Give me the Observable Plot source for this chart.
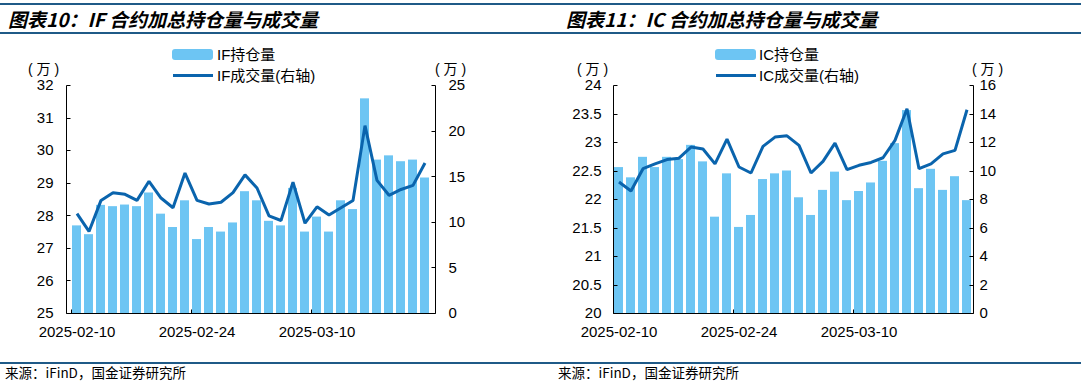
<!DOCTYPE html>
<html><head><meta charset="utf-8">
<script src="https://cdn.jsdelivr.net/npm/d3@7"></script>
<script src="https://cdn.jsdelivr.net/npm/@observablehq/plot@0.6"></script>
<style>
body{margin:0;background:#fff;width:1086px;height:385px;position:relative;overflow:hidden;font-family:"Liberation Sans",Arial,sans-serif;color:#000;}
.hline{position:absolute;left:0;width:1081px;height:2px;background:#1f5a87;}
.title{position:absolute;top:7px;font-family:"Noto Sans CJK SC",sans-serif;font-weight:bold;font-style:italic;font-size:19px;line-height:24px;white-space:nowrap;}
.foot{position:absolute;top:364px;font-family:"Noto Sans CJK SC",sans-serif;font-size:13.5px;line-height:17px;white-space:nowrap;}
.leg{position:absolute;font-size:15px;line-height:18px;font-family:"Liberation Sans","Noto Sans CJK SC",sans-serif;white-space:nowrap;}
.sw{position:absolute;width:41px;height:11px;background:#6dc5f3;border-radius:3px;}
.ln{position:absolute;width:40px;height:3px;background:#0a64ad;}
.unit{position:absolute;font-size:14px;line-height:16px;font-family:"Liberation Sans","Noto Sans CJK SC",sans-serif;white-space:nowrap;}
.chart{position:absolute;top:40px;}
</style>
</head><body>
<div class="hline" style="top:3px"></div>
<div class="hline" style="top:32px"></div>
<div class="hline" style="top:362px"></div>
<div class="title" style="left:8px">图表10：IF 合约加总持仓量与成交量</div>
<div class="title" style="left:566px">图表11：IC 合约加总持仓量与成交量</div>
<div class="foot" style="left:5px">来源：iFinD，国金证券研究所</div>
<div class="foot" style="left:558px">来源：iFinD，国金证券研究所</div>

<div class="sw" style="left:172px;top:49px"></div>
<div class="leg" style="left:217px;top:46px">IF持仓量</div>
<div class="ln" style="left:173px;top:74px"></div>
<div class="leg" style="left:217px;top:67px">IF成交量(右轴)</div>
<div class="unit" style="left:28px;top:61px">( 万 )</div>
<div class="unit" style="left:435px;top:61px">( 万 )</div>

<div class="sw" style="left:715px;top:49px"></div>
<div class="leg" style="left:759px;top:46px">IC持仓量</div>
<div class="ln" style="left:716px;top:74px"></div>
<div class="leg" style="left:759px;top:67px">IC成交量(右轴)</div>
<div class="unit" style="left:577px;top:61px">( 万 )</div>
<div class="unit" style="left:972px;top:61px">( 万 )</div>

<div id="c1" class="chart" style="left:0px"></div>
<div id="c2" class="chart" style="left:540px"></div>

<script>
const dates = ["2025-02-10","2025-02-11","2025-02-12","2025-02-13","2025-02-14",
  "2025-02-17","2025-02-18","2025-02-19","2025-02-20","2025-02-21",
  "2025-02-24","2025-02-25","2025-02-26","2025-02-27","2025-02-28",
  "2025-03-03","2025-03-04","2025-03-05","2025-03-06","2025-03-07",
  "2025-03-10","2025-03-11","2025-03-12","2025-03-13","2025-03-14",
  "2025-03-17","2025-03-18","2025-03-19","2025-03-20","2025-03-21"];
const xTickLabels = ["2025-02-10","2025-02-24","2025-03-10"];

const ifOI = [27.69,27.42,28.32,28.28,28.33,28.28,28.70,28.05,27.64,28.46,
  27.27,27.64,27.50,27.78,28.74,28.46,27.83,27.69,28.84,27.50,
  27.96,27.50,28.46,28.19,31.59,29.71,29.84,29.66,29.71,29.16];
const ifVol = [10.95,9.0,12.4,13.25,13.07,12.4,14.5,12.66,11.6,15.4,
  12.4,12.0,12.2,13.25,15.2,13.76,10.7,10.2,14.4,9.9,
  11.7,10.8,11.6,12.4,20.6,14.6,12.96,13.6,14.05,16.5];
const icOI = [22.56,22.38,22.74,22.56,22.74,22.70,22.95,22.66,21.69,22.45,
  21.51,21.72,22.35,22.45,22.50,22.03,21.72,22.16,22.48,21.98,
  22.14,22.29,22.67,22.98,23.56,22.19,22.53,22.16,22.40,21.98];
const icVol = [9.23,8.6,10.16,10.5,10.8,10.9,11.68,11.54,10.5,12.24,
  10.28,9.86,11.73,12.38,12.47,11.8,9.86,10.68,11.96,10.09,
  10.4,10.6,10.93,12.15,14.37,10.16,10.5,11.2,11.45,14.3];

const ifTicksL = [25,26,27,28,29,30,31,32];
const ifTicksR = [0,5,10,15,20,25];
const icTicksL = [20,20.5,21,21.5,22,22.5,23,23.5,24];
const icTicksR = [0,2,4,6,8,10,12,14,16];

const BAR = "#6dc5f3", LINE = "#0a64ad";
const PI = 0.22;

function makeChart({oi, vol, yL, yR, ticksL, ticksR, width, ml, mr, padL, padR}) {
  const [l0, l1] = yL, [r0, r1] = yR;
  const toL = v => l0 + (v - r0) * (l1 - l0) / (r1 - r0);
  const fromL = v => r0 + (v - l0) * (r1 - r0) / (l1 - l0);
  const rows = dates.map((d, i) => ({date: d, oi: oi[i], vol: vol[i]}));
  return Plot.plot({
    width, height: 300,
    marginTop: 45, marginBottom: 27, marginLeft: ml, marginRight: mr,
    style: {fontSize: "15px", fontFamily: "'Liberation Sans', Arial, sans-serif", color: "#000", background: "transparent", overflow: "visible"},
    x: {type: "band", domain: dates, paddingInner: PI, paddingOuter: PI / 2, axis: null},
    y: {domain: yL, axis: null},
    marks: [
      Plot.barY(rows, {x: "date", y1: l0, y2: "oi", fill: BAR}),
      Plot.line(rows, {x: "date", y: d => toL(d.vol), stroke: LINE, strokeWidth: 3, strokeLinejoin: "miter", strokeLinecap: "butt"}),
      Plot.axisX(xTickLabels, {tickSize: 0, tickPadding: 13, label: null}),
      Plot.axisY(ticksL, {anchor: "left", tickSize: 0, tickPadding: padL, label: null, tickFormat: d => String(d)}),
      Plot.axisY(ticksR.map(toL), {anchor: "right", tickSize: 0, tickPadding: padR, label: null, tickFormat: d => String(Math.round(fromL(d) * 100) / 100)}),
      (index, scales, values, dim) => {
        const x = scales.x, y = scales.y;
        const xl = Math.round(dim.marginLeft) + 0.5;
        const xr = Math.round(dim.width - dim.marginRight) + 0.5;
        const yb = Math.round(dim.height - dim.marginBottom) + 0.5;
        const yt = Math.round(dim.marginTop) + 0.5;
        const step = x(dates[1]) - x(dates[0]);
        let d = `M${xl},${yt}V${yb}H${xr}M${xr},${yt}V${yb}`;
        for (const t of ticksL) { const yy = Math.round(y(t)) + 0.5; d += `M${xl},${yy}h4`; }
        for (const t of ticksR) { const yy = Math.round(y(toL(t))) + 0.5; d += `M${xr},${yy}h-4`; }
        for (const t of xTickLabels) { const bx = Math.round(x(t) - step * PI / 2) + 0.5; d += `M${bx},${yb}v-4`; }
        const g = d3.create("svg:g");
        g.append("path").attr("d", d).attr("fill", "none").attr("stroke", "#000").attr("stroke-width", 1);
        return g.node();
      }
    ]
  });
}

document.getElementById("c1").append(makeChart({
  oi: ifOI, vol: ifVol, yL: [25, 32], yR: [0, 25], ticksL: ifTicksL, ticksR: ifTicksR,
  width: 540, ml: 66, mr: 105, padL: 13, padR: 13
}));
document.getElementById("c2").append(makeChart({
  oi: icOI, vol: icVol, yL: [20, 24], yR: [0, 16], ticksL: icTicksL, ticksR: icTicksR,
  width: 546, ml: 73, mr: 113, padL: 12, padR: 6
}));
</script>
</body></html>
